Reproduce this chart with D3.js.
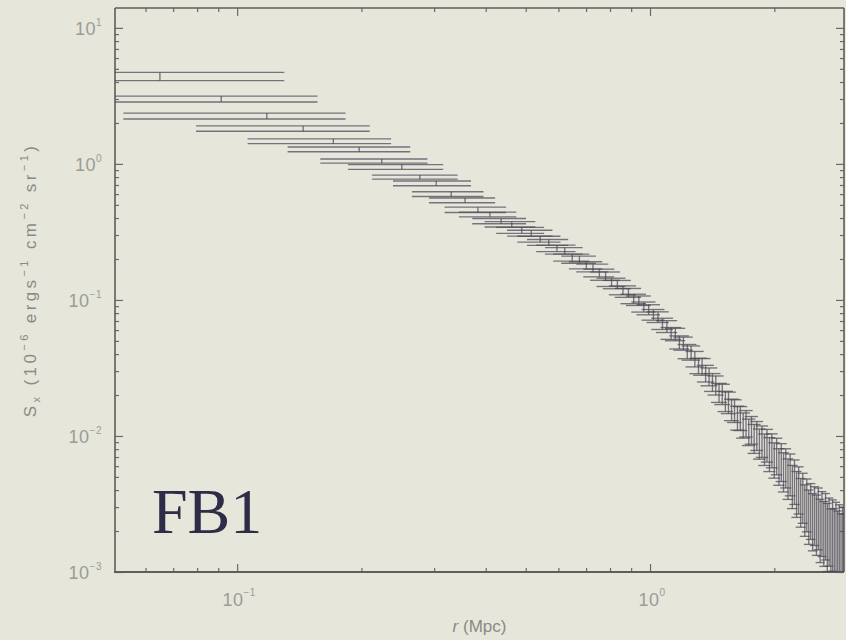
<!DOCTYPE html>
<html>
<head>
<meta charset="utf-8">
<script src="https://cdn.jsdelivr.net/npm/d3@7"></script>
<style>
  html, body { margin: 0; padding: 0; background: #e6e6da; }
  svg { display: block; }
</style>
</head>
<body>
<svg id="chart" width="846" height="640"></svg>
<script>
// Surface brightness profile, FB1: radius bins (Mpc)
const radius = [
  0.0650, 0.0915, 0.1180, 0.1445, 0.1710, 0.1975, 0.2240, 0.2505, 0.2770, 0.3035,
  0.3300, 0.3565, 0.3830, 0.4095, 0.4360, 0.4625, 0.4890, 0.5155, 0.5420, 0.5685,
  0.5950, 0.6215, 0.6480, 0.6745, 0.7010, 0.7275, 0.7540, 0.7805, 0.8070, 0.8335,
  0.8600, 0.8865, 0.9130, 0.9395, 0.9660, 0.9925, 1.0190, 1.0455, 1.0720, 1.0985,
  1.1250, 1.1515, 1.1780, 1.2045, 1.2310, 1.2575, 1.2840, 1.3105, 1.3370, 1.3635,
  1.3900, 1.4165, 1.4430, 1.4695, 1.4960, 1.5225, 1.5490, 1.5755, 1.6020, 1.6285,
  1.6550, 1.6815, 1.7080, 1.7345, 1.7610, 1.7875, 1.8140, 1.8405, 1.8670, 1.8935,
  1.9200, 1.9465, 1.9730, 1.9995, 2.0260, 2.0525, 2.0790, 2.1055, 2.1320, 2.1585,
  2.1850, 2.2115, 2.2380, 2.2645, 2.2910, 2.3175, 2.3440, 2.3705, 2.3970, 2.4235,
  2.4500, 2.4765, 2.5030, 2.5295, 2.5560, 2.5825, 2.6090, 2.6355, 2.6620, 2.6885,
  2.7150, 2.7415, 2.7680, 2.7945, 2.8210, 2.8475, 2.8740, 2.9005, 2.9270, 2.9535
];

// S_x in 1e-6 erg s^-1 cm^-2 sr^-1
const brightness = [
  4.4, 3.0, 2.25, 1.82, 1.47, 1.28, 1.05, 0.95, 0.80, 0.72,
  0.60, 0.54, 0.46, 0.425, 0.38, 0.36, 0.325, 0.31, 0.28, 0.265,
  0.24, 0.23, 0.205, 0.198, 0.18, 0.172, 0.158, 0.15, 0.135, 0.13,
  0.118, 0.113, 0.102, 0.099, 0.089, 0.085, 0.078, 0.075, 0.067, 0.064,
  0.057, 0.056, 0.049, 0.048, 0.042, 0.041, 0.037, 0.033, 0.0325, 0.029,
  0.0275, 0.025, 0.0238, 0.021, 0.0205, 0.0182, 0.0178, 0.0158, 0.0155, 0.0138,
  0.0137, 0.0122, 0.0126, 0.0109, 0.0113, 0.0098, 0.0103, 0.0090, 0.0094, 0.0082,
  0.0088, 0.0076, 0.0081, 0.0069, 0.0074, 0.0062, 0.0067, 0.0057, 0.0061, 0.0051,
  0.0055, 0.0045, 0.0049, 0.0040, 0.0043, 0.0035, 0.0038, 0.0031, 0.0034, 0.0028,
  0.0031, 0.0026, 0.0029, 0.0025, 0.0028, 0.0023, 0.0026, 0.0022, 0.0025, 0.0021,
  0.0023, 0.0019, 0.0022, 0.0019, 0.0021, 0.0018, 0.0020, 0.0017, 0.0019, 0.0017
];

// 1-sigma error, as a fraction of S_x
const relError = [
  0.07, 0.05, 0.05, 0.045, 0.04, 0.04, 0.035, 0.04, 0.035, 0.04,
  0.04, 0.04, 0.045, 0.04, 0.045, 0.045, 0.05, 0.05, 0.05, 0.05,
  0.055, 0.055, 0.06, 0.06, 0.06, 0.065, 0.065, 0.07, 0.07, 0.07,
  0.075, 0.075, 0.08, 0.08, 0.085, 0.085, 0.09, 0.09, 0.095, 0.10,
  0.10, 0.105, 0.11, 0.11, 0.12, 0.12, 0.13, 0.13, 0.14, 0.14,
  0.15, 0.15, 0.16, 0.16, 0.17, 0.17, 0.18, 0.18, 0.19, 0.20,
  0.20, 0.21, 0.22, 0.22, 0.23, 0.24, 0.24, 0.25, 0.26, 0.26,
  0.27, 0.28, 0.28, 0.29, 0.30, 0.30, 0.31, 0.32, 0.32, 0.33,
  0.34, 0.35, 0.36, 0.37, 0.38, 0.39, 0.40, 0.41, 0.42, 0.43,
  0.44, 0.45, 0.46, 0.47, 0.48, 0.49, 0.50, 0.50, 0.51, 0.52,
  0.52, 0.53, 0.54, 0.54, 0.55, 0.56, 0.56, 0.57, 0.58, 0.58
];

// errorbar caps: half-width in linear radius units (Mpc)
const capHalfWidth = 0.065;

const yTickExponents = [1, 0, -1, -2, -3];
const xTickExponents = [-1, 0];

const xDomain = [0.0506, 2.95];
const yDomain = [0.001, 14];

const L = 115, R = 844, T = 8, B = 572;

const svg = d3.select("#chart");
svg.append("rect").attr("width", 846).attr("height", 640).attr("fill", "#e6e6da");

const x = d3.scaleLog().domain(xDomain).range([L, R]);
const y = d3.scaleLog().domain(yDomain).range([B, T]);

const defs = svg.append("defs");
defs.append("clipPath").attr("id", "plotClip")
  .append("rect").attr("x", L).attr("y", T).attr("width", R - L).attr("height", B - T);
defs.append("filter").attr("id", "soft").attr("x", "-5%").attr("y", "-5%").attr("width", "110%").attr("height", "110%")
  .append("feGaussianBlur").attr("stdDeviation", 0.5);

// minor tick positions on the log axes
function minorTicks(domain) {
  const out = [];
  const k0 = Math.floor(Math.log10(domain[0])), k1 = Math.ceil(Math.log10(domain[1]));
  for (let k = k0; k <= k1; k++) {
    for (let m = 2; m <= 9; m++) {
      const v = m * Math.pow(10, k);
      if (v > domain[0] && v < domain[1]) out.push(v);
    }
  }
  return out;
}
const yMajor = yTickExponents.map(e => Math.pow(10, e));
const xMajor = xTickExponents.map(e => Math.pow(10, e));
const yMinor = minorTicks(yDomain);
const xMinor = minorTicks(xDomain);

const tickColor = "#6a6a66";
function styleAxis(g) {
  g.select(".domain").remove();
  g.selectAll(".tick line").attr("stroke", tickColor).attr("stroke-width", 1.2);
  g.selectAll(".tick text").remove();
}

// inward ticks on all four sides
svg.append("g").attr("transform", `translate(${L},0)`)
  .call(d3.axisRight(y).tickValues(yMajor).tickSize(8)).call(styleAxis);
svg.append("g").attr("transform", `translate(${L},0)`)
  .call(d3.axisRight(y).tickValues(yMinor).tickSize(4)).call(styleAxis);
svg.append("g").attr("transform", `translate(${R},0)`)
  .call(d3.axisLeft(y).tickValues(yMajor).tickSize(8)).call(styleAxis);
svg.append("g").attr("transform", `translate(${R},0)`)
  .call(d3.axisLeft(y).tickValues(yMinor).tickSize(4)).call(styleAxis);
svg.append("g").attr("transform", `translate(0,${B})`)
  .call(d3.axisTop(x).tickValues(xMajor).tickSize(8)).call(styleAxis);
svg.append("g").attr("transform", `translate(0,${B})`)
  .call(d3.axisTop(x).tickValues(xMinor).tickSize(4)).call(styleAxis);
svg.append("g").attr("transform", `translate(0,${T})`)
  .call(d3.axisBottom(x).tickValues(xMajor).tickSize(8)).call(styleAxis);
svg.append("g").attr("transform", `translate(0,${T})`)
  .call(d3.axisBottom(x).tickValues(xMinor).tickSize(4)).call(styleAxis);

// frame
const frame = svg.append("g").attr("stroke", "#5e5e5a").attr("fill", "none");
frame.append("line").attr("x1", L).attr("x2", L).attr("y1", T).attr("y2", B).attr("stroke-width", 1.6);
frame.append("line").attr("x1", R).attr("x2", R).attr("y1", T).attr("y2", B).attr("stroke-width", 1.6);
frame.append("line").attr("x1", L).attr("x2", R).attr("y1", T).attr("y2", T).attr("stroke-width", 1.6);
frame.append("line").attr("x1", L - 1).attr("x2", R).attr("y1", B).attr("y2", B).attr("stroke-width", 2.2);

// tick labels: 10 with superscript exponent
const labelColor = "#9c9c98";
const fontSans = "'Liberation Sans', Arial, Helvetica, sans-serif";
yTickExponents.forEach(e => {
  const t = svg.append("text")
    .attr("x", 102).attr("y", y(Math.pow(10, e)) + 7)
    .attr("text-anchor", "end").attr("fill", labelColor)
    .attr("font-family", fontSans).attr("font-size", 18)
    .attr("letter-spacing", 0.5);
  t.append("tspan").text("10");
  t.append("tspan").attr("dy", -9).attr("font-size", 10).text(e < 0 ? "\u2212" + (-e) : String(e));
});
xTickExponents.forEach(e => {
  const t = svg.append("text")
    .attr("x", x(Math.pow(10, e)) + 2).attr("y", 606)
    .attr("text-anchor", "middle").attr("fill", labelColor)
    .attr("font-family", fontSans).attr("font-size", 18)
    .attr("letter-spacing", 0.5);
  t.append("tspan").text("10");
  t.append("tspan").attr("dy", -10).attr("font-size", 10).text(e < 0 ? "\u2212" + (-e) : String(e));
});

// axis titles
const xTitle = svg.append("text")
  .attr("x", (L + R) / 2).attr("y", 632)
  .attr("text-anchor", "middle").attr("fill", "#8a8a86")
  .attr("font-family", fontSans).attr("font-size", 17);
xTitle.append("tspan").attr("font-style", "italic").text("r");
xTitle.append("tspan").text(" (Mpc)");

const yTitle = svg.append("text")
  .attr("transform", "translate(36,280) rotate(-90)")
  .attr("text-anchor", "middle").attr("fill", "#8a8a86")
  .attr("font-family", fontSans).attr("font-size", 17)
  .attr("letter-spacing", 3.4);
yTitle.append("tspan").text("S");
yTitle.append("tspan").attr("font-size", 11).attr("dy", 4).text("x");
yTitle.append("tspan").attr("dy", -4).text(" (10");
yTitle.append("tspan").attr("font-size", 11).attr("dy", -8).text("\u22126");
yTitle.append("tspan").attr("dy", 8).text(" ergs");
yTitle.append("tspan").attr("font-size", 11).attr("dy", -8).text("\u22121");
yTitle.append("tspan").attr("dy", 8).text(" cm");
yTitle.append("tspan").attr("font-size", 11).attr("dy", -8).text("\u22122");
yTitle.append("tspan").attr("dy", 8).text(" sr");
yTitle.append("tspan").attr("font-size", 11).attr("dy", -8).text("\u22121");
yTitle.append("tspan").attr("dy", 8).text(")");

// error bars
const n = Math.min(radius.length, brightness.length, relError.length);
const points = d3.range(n).map(i => ({
  r: radius[i], s: brightness[i], e: relError[i] * brightness[i]
}));

const marks = svg.append("g")
  .attr("clip-path", "url(#plotClip)")
  .append("g")
  .attr("filter", "url(#soft)")
  .attr("stroke", "#4c4556").attr("stroke-opacity", 0.72)
  .attr("stroke-width", 1.35).attr("fill", "none");

const capX = d => [x(Math.max(d.r - capHalfWidth, xDomain[0] * 0.5)), x(d.r + capHalfWidth)];

const bar = marks.selectAll("g.bar").data(points).join("g").attr("class", "bar");
bar.append("line")
  .attr("x1", d => x(d.r)).attr("x2", d => x(d.r))
  .attr("y1", d => y(d.s + d.e)).attr("y2", d => y(d.s - d.e));
bar.append("line")
  .attr("x1", d => capX(d)[0]).attr("x2", d => capX(d)[1])
  .attr("y1", d => y(d.s + d.e)).attr("y2", d => y(d.s + d.e));
bar.append("line")
  .attr("x1", d => capX(d)[0]).attr("x2", d => capX(d)[1])
  .attr("y1", d => y(d.s - d.e)).attr("y2", d => y(d.s - d.e));

// panel label
svg.append("text")
  .attr("x", 152).attr("y", 533)
  .attr("fill", "#2e2c46")
  .attr("font-family", "'Liberation Serif', 'Times New Roman', Times, serif")
  .attr("font-size", 64)
  .text("FB1");
</script>
</body>
</html>
